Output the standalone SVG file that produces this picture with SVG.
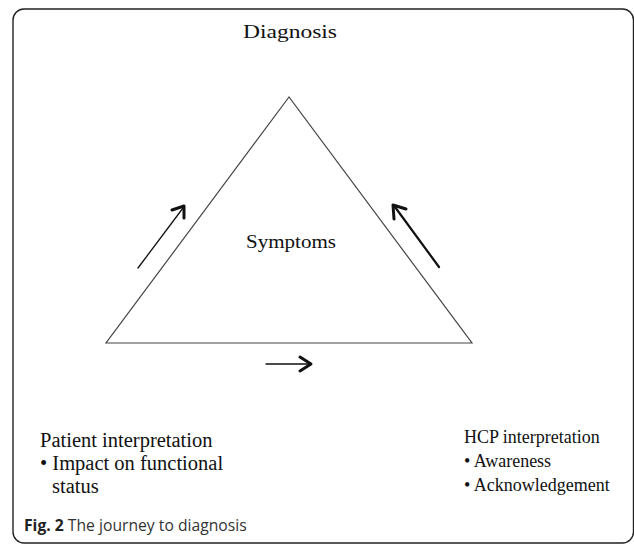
<svg xmlns="http://www.w3.org/2000/svg" width="634" height="544" viewBox="0 0 634 544">
<style>
.t{font-family:"Liberation Serif","Times New Roman",serif;font-size:18px;fill:#111}
.tl{font-size:20.5px}
.ln{stroke:#444;stroke-width:1.2;fill:none}
.ar{stroke:#111;fill:none;stroke-linecap:round;stroke-linejoin:round}
.cap{font-family:"Open Sans","Noto Sans",sans-serif;font-size:15.7px;fill:#333}
</style>
<rect x="13" y="9" width="620.5" height="534" rx="11" fill="#fff" stroke="#222" stroke-width="1.4"/>
<g id="triangle"><polygon class="ln" points="289,97 106,343 472,343"/></g>
<g id="diagnosis"><text class="t" x="243" y="38" font-size="20" textLength="94" lengthAdjust="spacingAndGlyphs">Diagnosis</text></g>
<g id="symptoms"><text class="t" x="246" y="248" font-size="20" textLength="90" lengthAdjust="spacingAndGlyphs">Symptoms</text></g>
<g id="patient">
<text class="t tl" x="40" y="447">Patient interpretation</text>
<text class="t tl" x="40" y="470">• Impact on functional</text>
<text class="t tl" x="52" y="493">status</text>
</g>
<g id="hcp">
<text class="t" x="464" y="443">HCP interpretation</text>
<text class="t" x="464" y="467">• Awareness</text>
<text class="t" x="464" y="491">• Acknowledgement</text>
</g>
<g id="connectors">
<line class="ar" x1="138" y1="268" x2="183" y2="208" stroke-width="1.3"/>
<polyline class="ar" points="172,210 184,206 184,218" stroke-width="3"/>
<line class="ar" x1="439" y1="267" x2="395" y2="207" stroke-width="2.2"/>
<polyline class="ar" points="394,219 393,205 406,209" stroke-width="3"/>
<line class="ar" x1="266" y1="364" x2="310" y2="364" stroke-width="1.3"/>
<polyline class="ar" points="300,357 311,364 300,371" stroke-width="3"/>
</g>
<text class="cap" x="24" y="531"><tspan font-weight="bold" fill="#222">Fig. 2</tspan><tspan> The journey to diagnosis</tspan></text>
</svg>
